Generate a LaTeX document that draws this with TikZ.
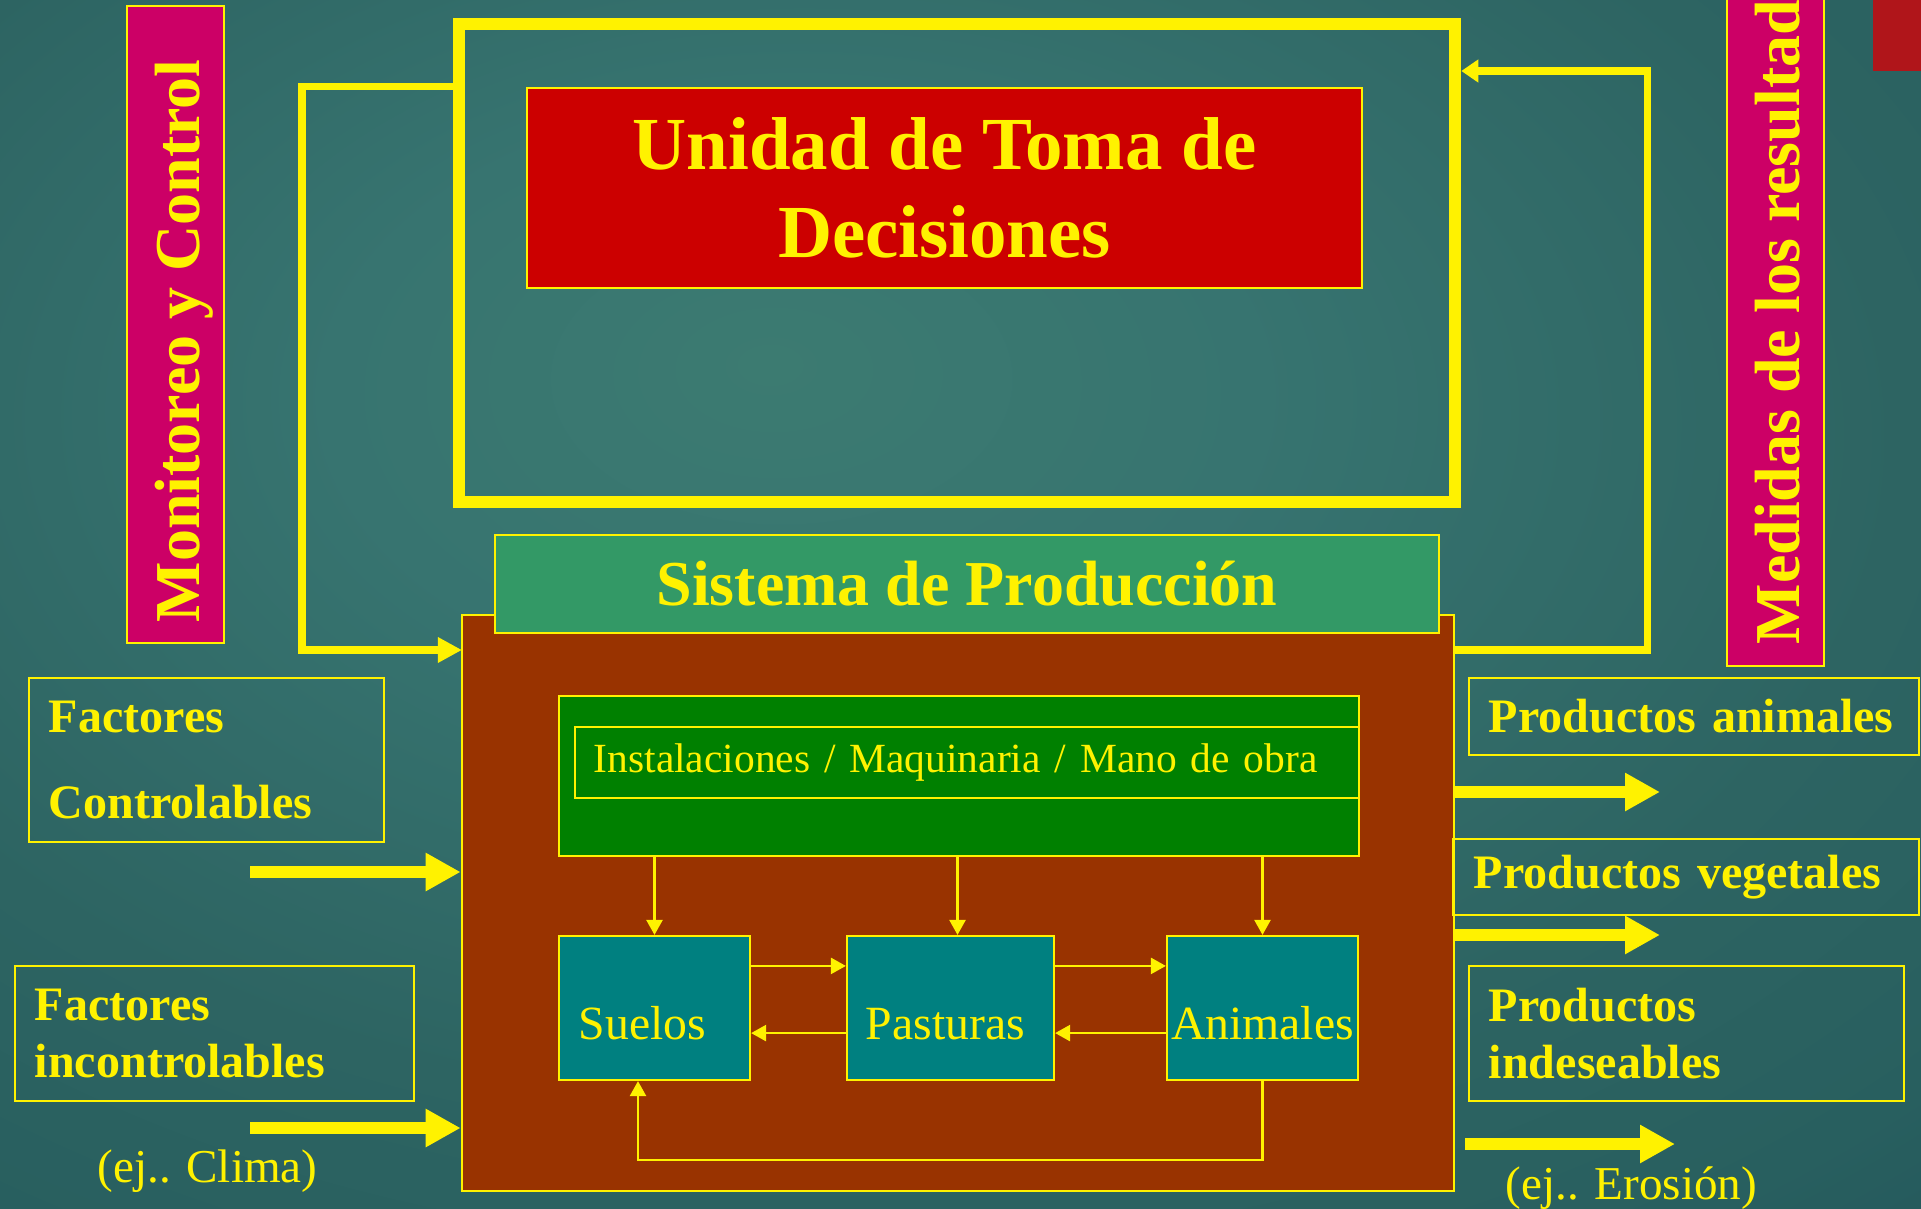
\documentclass[tikz,border=0pt]{standalone}
\usepackage{fontspec}
\setmainfont{Liberation Serif}
\usetikzlibrary{arrows.meta,positioning}
\definecolor{bga}{HTML}{3C7B71}
\definecolor{bgb}{HTML}{377470}
\definecolor{bgc}{HTML}{2D6462}
\definecolor{bgd}{HTML}{285F5F}
\definecolor{bge}{HTML}{1E4C57}
\definecolor{bgf}{HTML}{1B4654}
\definecolor{utdred}{HTML}{CC0000}
\definecolor{magbox}{HTML}{CC0066}
\definecolor{sisgreen}{HTML}{339966}
\definecolor{prodbrown}{HTML}{993300}
\definecolor{recgreen}{HTML}{008000}
\definecolor{recteal}{HTML}{008080}
\definecolor{cornred}{HTML}{B0151A}
\pgfdeclareradialshading{bgshade}{\pgfpoint{-5bp}{10bp}}{color(0bp)=(bga); color(12bp)=(bgb); color(28bp)=(bgc); color(38bp)=(bgd); color(52bp)=(bge); color(72bp)=(bgf); color(90bp)=(bgf)}
\begin{document}
\begin{tikzpicture}[x=0.01cm,y=-0.01cm,
        box/.style={draw=yellow,line width=0.6pt,text=yellow,inner sep=0pt},
        mag/.style={box,fill=magbox},
        vt/.style={rotate=90,inner sep=0pt,text=yellow,font=\bfseries\fontsize{18.2}{22}\selectfont},
        tb/.style={box,fill=recteal,minimum height=1.44cm,text height=0.62cm,text depth=0pt,font=\fontsize{13.57}{16}\selectfont},
        fbox/.style={box,inner xsep=0.2cm,align=left,font=\bfseries\fontsize{13.66}{16.2}\selectfont},
        ej/.style={inner sep=0pt,text=yellow,font=\fontsize{13.4}{16}\selectfont},
        fb/.style={yellow,line width=2pt},
        big/.style={yellow,line width=3.25pt,-{Triangle[length=0.35cm,width=0.36cm]}},
        sm/.style={yellow,line width=0.7pt,-{Triangle[length=0.15cm,width=0.16cm]}}]
        \useasboundingbox (0,0) rectangle (1921,1209);
        \clip (0,0) rectangle (1921,1209);
        \shade[shading=bgshade] (0,0) rectangle (1921,1209);
        \fill[cornred] (1873,0) rectangle (1921,71);

        \node[mag,minimum width=0.97cm,minimum height=6.37cm] (mcbox) at (175.5,324.5) {};
        \node[vt,anchor=base west] (mc) at (199.5,623) {Monitoreo y Control};
        \node[mag,minimum width=0.97cm,minimum height=6.76cm] (mrbox) at (1775.5,328) {};
        \node[vt,anchor=base west] (mr) at (1799,645) {Medidas de los resultados};

        \node[draw=yellow,line width=3.4pt,minimum width=9.96cm,minimum height=4.78cm] (utd) at (957,263) {};
        \node[box,fill=utdred,minimum width=8.35cm,minimum height=2cm,align=center,
            font=\bfseries\fontsize{21.3}{25}\selectfont] (udm) at (944.5,188) {Unidad de Toma de\\Decisiones};

        \coordinate (fbL) at (302,650);
        \coordinate (fbR) at (1647,71);
        \draw[fb,-{Triangle[length=0.24cm,width=0.24cm]}] (utd.west |- udm.north) -| (fbL) -- (fbL -| 462,0);

        \node[box,fill=prodbrown,minimum width=9.92cm,minimum height=5.76cm] (prod) at (958,903) {};
        \node[box,fill=sisgreen,minimum width=9.44cm,minimum height=0.98cm,
            font=\bfseries\fontsize{18.2}{22}\selectfont] (sis) at (967,584) {Sistema de Producción};
        \draw[fb,-{Triangle[length=0.17cm,width=0.22cm]}] (prod.east |- fbL) -| (fbR) -- (fbR -| utd.east);

        \node[box,fill=recgreen,minimum width=8cm,minimum height=1.6cm] (grn) at (959,776) {};
        \node[box,minimum width=7.84cm,minimum height=0.71cm,inner xsep=0.19cm,text width=7.46cm,align=left,
            font=\fontsize{11.8}{14}\selectfont] (inst) at (967,762.5) {Instalaciones / Maquinaria / Mano de obra};

        \node[tb,minimum width=1.91cm] (suelos) at (654.5,1008) {Suelos\hspace*{0.24cm}};
        \node[tb,minimum width=2.07cm] (pastu) at (950.5,1008) {Pasturas\hspace*{0.1cm}};
        \node[tb,minimum width=1.91cm] (anim) at (1262.5,1008) {Animales};

        \draw[sm] (grn.south -| suelos) -- (suelos.north);
        \draw[sm] ([xshift=0.07cm]grn.south -| pastu) -- ([xshift=0.07cm]pastu.north);
        \draw[sm] (grn.south -| anim) -- (anim.north);
        \draw[sm] ([yshift=-0.31cm]suelos.north east) -- ([yshift=-0.31cm]pastu.north west);
        \draw[sm] ([yshift=-0.31cm]pastu.north east) -- ([yshift=-0.31cm]anim.north west);
        \draw[sm] ([yshift=0.48cm]pastu.south west) -- ([yshift=0.48cm]suelos.south east);
        \draw[sm] ([yshift=0.48cm]anim.south west) -- ([yshift=0.48cm]pastu.south east);
        \coordinate (loopB) at (638,1160);
        \draw[sm] (anim.south) |- (loopB) -- (loopB |- suelos.south);

        \node[fbox,minimum width=3.55cm,minimum height=1.64cm,text width=3.15cm,
            font=\bfseries\fontsize{13.66}{24.6}\selectfont] (fc) at (206.5,760) {Factores\\Controlables};
        \node[fbox,minimum width=3.99cm,minimum height=1.35cm,text width=3.59cm] (fi) at (214.5,1033.5) {Factores\\incontrolables};
        \node[ej] (clima) at (207.5,1171) {(ej.. Clima)};

        \node[fbox,minimum width=4.5cm,minimum height=0.77cm,text width=4.1cm] (pa) at (1694,716.5) {Productos animales};
        \node[fbox,minimum width=4.66cm,minimum height=0.755cm,inner xsep=0.21cm,text width=4.24cm] (pv) at (1686,877) {Productos vegetales};
        \node[fbox,minimum width=4.35cm,minimum height=1.35cm,text width=3.95cm] (pi) at (1686.5,1033.5) {Productos\\indeseables};
        \node[ej] (eros) at (1631.5,1188) {(ej.. Erosión)};

        \coordinate (fcA) at (250,872);
        \coordinate (fiA) at (250,1128);
        \coordinate (paA) at (1660,792);
        \coordinate (pvA) at (1660,935);
        \coordinate (piS) at (1465,1144);
        \coordinate (piA) at (1675,1144);
        \draw[big] (fcA) -- (fcA -| prod.west);
        \draw[big] (fiA) -- (fiA -| prod.west);
        \draw[big] (prod.east |- paA) -- (paA);
        \draw[big] (prod.east |- pvA) -- (pvA);
        \draw[big] (piS) -- (piA);
\end{tikzpicture}
\end{document}
